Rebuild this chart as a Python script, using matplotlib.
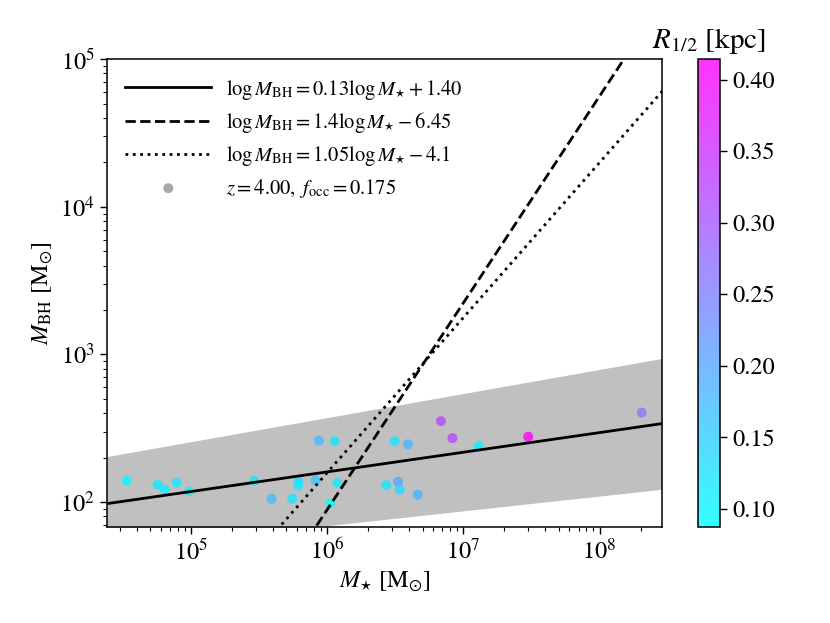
import numpy as np
import matplotlib
matplotlib.use("Agg")
import matplotlib.pyplot as plt
from matplotlib.colors import Normalize

plt.rcParams['font.family'] = 'STIXGeneral'
plt.rcParams['mathtext.fontset'] = 'stix'

# galaxies: stellar mass, BH mass, half-light radius
m_star = [3.37e4, 5.65e4, 6.37e4, 7.83e4, 9.6e4, 2.9e5, 3.89e5, 5.52e5, 6.14e5,
          6.11e5, 8.67e5, 1.13e6, 8.18e5, 1.18e6, 1.05e6, 3.13e6, 2.71e6, 3.3e6,
          3.4e6, 3.91e6, 4.61e6, 6.83e6, 8.3e6, 1.29e7, 2.99e7, 2.04e8]
m_bh = [139, 131, 122, 135, 118, 139, 105, 105, 137,
        129, 260, 258, 140, 135, 98, 258, 130, 137,
        121, 246, 112, 353, 271, 240, 277, 403]
r_half = [0.095, 0.115, 0.11, 0.115, 0.11, 0.125, 0.175, 0.12, 0.13,
          0.115, 0.175, 0.12, 0.16, 0.115, 0.0876, 0.12, 0.12, 0.20,
          0.13, 0.18, 0.18, 0.32, 0.32, 0.11, 0.4142, 0.26]

# relations: log M_BH = slope * log M_star + intercept
fit_slope = [0.133, 1.4, 1.05]
fit_intercept = [1.406, -6.45, -4.1]
fit_labels = [r'$\log M_{\rm BH} = 0.13 \log M_{\star} + 1.40$',
              r'$\log M_{\rm BH} = 1.4 \log M_{\star} - 6.45$',
              r'$\log M_{\rm BH} = 1.05 \log M_{\star} - 4.1$']
fit_styles = ['-', '--', ':']

# scatter band edges
band_x = [2.39e4, 2.89e8]
band_lo = [47.5, 122]
band_hi = [203, 940]

xlim = (2.39e4, 2.89e8)
ylim = (68, 1e5)

fig = plt.figure(figsize=(8.3, 6.23), dpi=100)
ax = fig.add_axes([0.1285, 0.1546, 0.6695, 0.7504])
cax = fig.add_axes([0.841, 0.1546, 0.027, 0.7504])

ax.fill_between(band_x, band_lo, band_hi, color='silver', lw=0, zorder=1)

xx = np.logspace(np.log10(xlim[0]), np.log10(xlim[1]), 200)
for a, b, lab, ls in zip(fit_slope, fit_intercept, fit_labels, fit_styles):
    ax.plot(xx, 10 ** (a * np.log10(xx) + b), color='k', ls=ls, lw=2, label=lab, zorder=3)

norm = Normalize(vmin=min(r_half), vmax=max(r_half))
sc = ax.scatter(m_star, m_bh, c=r_half, cmap='cool', norm=norm, s=52,
                alpha=0.8, edgecolors='none', zorder=2)
ax.scatter([], [], c='darkgray', s=52, edgecolors='none',
           label=r'$z = 4.00,\ f_{\rm occ} = 0.175$')

ax.set_xscale('log')
ax.set_yscale('log')
ax.set_xlim(*xlim)
ax.set_ylim(*ylim)
ax.set_xlabel(r'$M_{\star}\ [{\rm M}_{\odot}]$', fontsize=17.5)
ax.set_ylabel(r'$M_{\rm BH}\ [{\rm M}_{\odot}]$', fontsize=17.5)
ax.tick_params(which='major', labelsize=17.5, length=4.8, width=1)
ax.tick_params(which='minor', length=3, width=0.8)
for s in ax.spines.values():
    s.set_linewidth(1.1)

ax.legend(loc='upper left', frameon=False, fontsize=14.8, handlelength=4.2,
          handletextpad=0.7, labelspacing=0.42)

cb = fig.colorbar(sc, cax=cax)
cb.solids.set_alpha(0.8)
cb.ax.tick_params(labelsize=17.5, length=4.8, width=1)
cb.outline.set_linewidth(1.1)
cb.ax.set_title(r'$R_{1/2}$ [kpc]', fontsize=21, pad=8)

fig.savefig('out.png', dpi=100)
